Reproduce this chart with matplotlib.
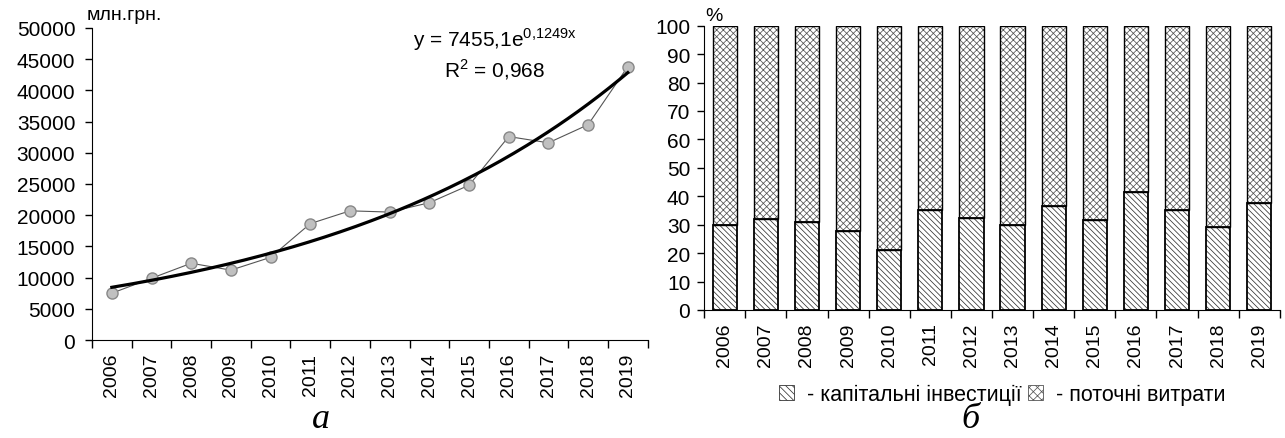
import numpy as np
import matplotlib
matplotlib.use("Agg")
import matplotlib.pyplot as plt
from matplotlib.patches import Patch

plt.rcParams['font.family'] = ['Liberation Sans', 'DejaVu Sans']
plt.rcParams['hatch.linewidth'] = 0.55

# data
years = ['2006', '2007', '2008', '2009', '2010', '2011', '2012',
         '2013', '2014', '2015', '2016', '2017', '2018', '2019']
costs = [7500, 9900, 12300, 11200, 13250, 18650, 20700,
         20500, 22000, 24800, 32600, 31600, 34500, 43800]
# trend y = a*e^(b*x), coefficients as shown on the chart
trend_a = 7455.1
trend_b = 0.1249

capital_share = [30.0, 31.9, 30.8, 27.7, 21.1, 35.2, 32.5,
                 29.8, 36.5, 31.5, 41.4, 35.2, 29.3, 37.5]
current_share = [100 - v for v in capital_share]

fig = plt.figure(figsize=(12.85, 4.39), dpi=100)

# ---- chart a ----
ax1 = fig.add_axes([0.0716, 0.2232, 0.4324, 0.7108])
x = np.arange(len(years))
ax1.plot(x, costs, color='#555555', lw=0.8, marker='o', markersize=8,
         markerfacecolor='#c0c0c0', markeredgecolor='#888888', zorder=3)
xt = np.linspace(0, len(years) - 1, 200)
ax1.plot(xt, trend_a * np.exp(trend_b * (xt + 1)), color='black', lw=2.3, zorder=4)

ax1.set_xlim(-0.5, len(years) - 0.5)
ax1.set_ylim(0, 50000)
ax1.set_yticks(range(0, 50001, 5000))
ax1.set_xticks(x)
ax1.set_xticklabels(years, rotation=90)
ax1.set_xticks(np.arange(-0.5, len(years)), minor=True)
ax1.tick_params(axis='x', which='major', length=0, labelsize=14, pad=9)
ax1.tick_params(axis='x', which='minor', length=6, width=1)
ax1.tick_params(axis='y', length=5, labelsize=15, width=1, pad=7)
for s in ['top', 'right']:
    ax1.spines[s].set_visible(False)
ax1.text(-0.01, 1.015, 'млн.грн.', transform=ax1.transAxes, fontsize=14, va='bottom')
ax1.text(0.725, 0.965, r'y = 7455,1e$^{\mathregular{0{,}1249x}}$', transform=ax1.transAxes,
         fontsize=15, ha='center', va='center')
ax1.text(0.725, 0.868, r'R$^{\mathregular{2}}$ = 0,968', transform=ax1.transAxes,
         fontsize=15, ha='center', va='center')

# ---- chart b ----
ax2 = fig.add_axes([0.548, 0.2916, 0.448, 0.6476])
hatch_low = '#333333'
hatch_up = '#555555'
ax2.bar(x, capital_share, width=0.59, color='white', edgecolor=hatch_low,
        hatch='\\\\\\\\\\\\', lw=0)
ax2.bar(x, current_share, width=0.59, bottom=capital_share, color='white',
        edgecolor=hatch_up, hatch='xxxxx', lw=0)
ax2.bar(x, capital_share, width=0.59, fill=False, edgecolor='black', lw=1.3)
ax2.bar(x, current_share, width=0.59, bottom=capital_share, fill=False,
        edgecolor='black', lw=1.0)

ax2.set_xlim(-0.5, len(years) - 0.5)
ax2.set_ylim(0, 100)
ax2.set_yticks(range(0, 101, 10))
ax2.set_xticks(x)
ax2.set_xticklabels(years, rotation=90)
ax2.set_xticks(np.arange(-0.5, len(years)), minor=True)
ax2.tick_params(axis='x', which='major', length=0, labelsize=14, pad=9)
ax2.tick_params(axis='x', which='minor', length=6, width=1)
ax2.tick_params(axis='y', length=5, labelsize=15, width=1, pad=5)
for s in ['top', 'right']:
    ax2.spines[s].set_visible(False)
ax2.text(0.002, 1.005, '%', transform=ax2.transAxes, fontsize=14, va='bottom', ha='left')

handles = [Patch(facecolor='white', edgecolor=hatch_low, hatch='\\\\\\\\\\', lw=0.6),
           Patch(facecolor='white', edgecolor=hatch_up, hatch='xxxx', lw=0.6)]
fig.legend(handles, [' - капітальні інвестиції', ' - поточні витрати'],
           loc='center', bbox_to_anchor=(0.78, 0.10), ncol=2, frameon=False,
           fontsize=15.5, handlelength=0.7, handleheight=0.7, handletextpad=0.3,
           columnspacing=0.3)

# captions
fig.text(0.25, 0.045, 'а', fontsize=26, style='italic', family='Liberation Serif',
         ha='center', va='center')
fig.text(0.755, 0.045, 'б', fontsize=26, style='italic', family='Liberation Serif',
         ha='center', va='center')

fig.savefig('out.png', dpi=100)
